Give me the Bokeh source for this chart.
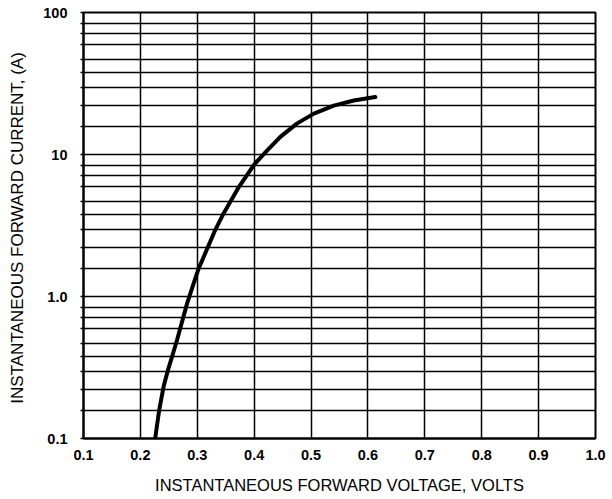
from bokeh.plotting import figure
from bokeh.models import Range1d, FixedTicker
from bokeh.embed import file_html
from bokeh.resources import INLINE

# Data
voltage = [0.226, 0.233, 0.2407, 0.2484, 0.2555, 0.2643, 0.2731, 0.282, 0.2935, 0.3023,
           0.317, 0.330, 0.346, 0.373, 0.399, 0.423, 0.446, 0.475, 0.505, 0.540,
           0.575, 0.613]
current = [0.1, 0.158, 0.231, 0.303, 0.375, 0.492, 0.662, 0.891, 1.233, 1.57,
           2.15, 2.85, 3.83, 5.9, 8.4, 10.7, 13.3, 16.5, 19.4, 22.1,
           24.0, 25.4]

x_ticks = [0.1, 0.2, 0.3, 0.4, 0.5, 0.6, 0.7, 0.8, 0.9, 1.0]
x_labels = ["0.1", "0.2", "0.3", "0.4", "0.5", "0.6", "0.7", "0.8", "0.9", "1.0"]
y_ticks = [0.1, 1.0, 10.0, 100.0]
y_labels = ["0.1", "1.0", "10", "100"]
# positions (fraction of a decade) of the horizontal rules as drawn in the reference
decade_fracs = [0.197, 0.348, 0.474, 0.574, 0.672, 0.778, 0.851, 0.926]

minor = [d * 10 ** f for d in y_ticks[:-1] for f in decade_fracs]
grid_y = sorted(y_ticks + minor)

p = figure(width=612, height=499, output_backend="svg", toolbar_location=None,
           x_range=Range1d(0.1, 1.0), y_range=Range1d(0.1, 100), y_axis_type="log",
           min_border_left=83, min_border_top=12, min_border_right=17, min_border_bottom=61)

p.line(voltage, current, line_color="black", line_width=4, line_cap="round", line_join="round")

FONT = "Liberation Sans"
p.xaxis.ticker = FixedTicker(ticks=x_ticks)
p.xaxis.major_label_overrides = {t: l for t, l in zip(x_ticks, x_labels)}
p.yaxis.ticker = FixedTicker(ticks=y_ticks, minor_ticks=minor)
p.yaxis.major_label_overrides = {t: l for t, l in zip(y_ticks, y_labels)}

for ax in (p.xaxis[0], p.yaxis[0]):
    ax.major_label_text_font = FONT
    ax.major_label_text_font_style = "bold"
    ax.major_label_text_font_size = "14.5px"
    ax.major_label_text_color = "black"
    ax.axis_label_text_font = FONT
    ax.axis_label_text_font_style = "normal"
    ax.axis_label_text_color = "black"
    ax.axis_line_color = "black"
    ax.axis_line_width = 2
    ax.major_tick_in = 0
    ax.minor_tick_in = 0

p.xaxis.major_tick_out = 0
p.xaxis.minor_tick_out = 0
p.xaxis.major_label_standoff = 11
p.xaxis.axis_label = "INSTANTANEOUS FORWARD VOLTAGE, VOLTS"
p.xaxis.axis_label_text_font_size = "16.5px"
p.xaxis.axis_label_standoff = 13

p.yaxis.major_tick_out = 3
p.yaxis.minor_tick_out = 3
p.yaxis.major_tick_line_color = "black"
p.yaxis.minor_tick_line_color = "black"
p.yaxis.major_tick_line_width = 1.5
p.yaxis.minor_tick_line_width = 1.5
p.yaxis.major_label_standoff = 13
p.yaxis.axis_label = "INSTANTANEOUS  FORWARD CURRENT, (A)"
p.yaxis.axis_label_text_font_size = "17px"
p.yaxis.axis_label_standoff = 13

p.xgrid.ticker = FixedTicker(ticks=x_ticks)
p.ygrid.ticker = FixedTicker(ticks=grid_y)
for g in (p.xgrid[0], p.ygrid[0]):
    g.grid_line_color = "black"
    g.grid_line_width = 1.5
    g.grid_line_alpha = 1.0

p.outline_line_color = "black"
p.outline_line_width = 2
p.outline_line_alpha = 1.0
p.background_fill_color = "white"
p.border_fill_color = "white"

open("out.html", "w").write(file_html(p, INLINE))
